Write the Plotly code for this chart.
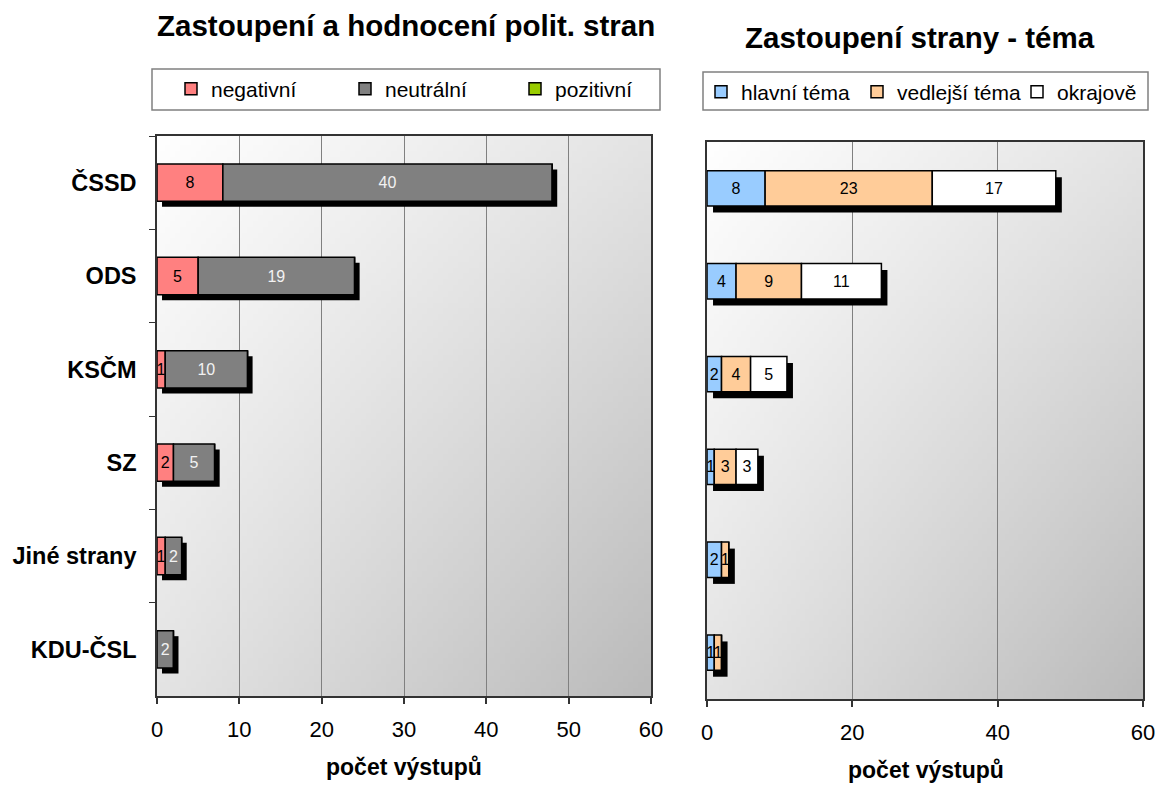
import base64
import struct
import zlib

import numpy as np
import plotly.graph_objects as go

# ---------------- data ----------------
parties = ["ČSSD", "ODS", "KSČM", "SZ", "Jiné strany", "KDU-ČSL"]

negativni = [8, 5, 1, 2, 1, 0]
neutralni = [40, 19, 10, 5, 2, 2]
pozitivni = [0, 0, 0, 0, 0, 0]

hlavni_tema = [8, 4, 2, 1, 2, 1]
vedlejsi_tema = [23, 9, 4, 3, 1, 1]
okrajove = [17, 11, 5, 3, 0, 0]

left_series_names = ["negativní", "neutrální", "pozitivní"]
right_series_names = ["hlavní téma", "vedlejší téma", "okrajově"]

left_ticks = [0, 10, 20, 30, 40, 50, 60]
right_ticks = [0, 20, 40, 60]

title_left = "Zastoupení a hodnocení polit. stran"
title_right = "Zastoupení strany - téma"
axis_title = "počet výstupů"

# ---------------- layout geometry ----------------
W, H = 1157, 785
FONT = "Liberation Sans, Arial, sans-serif"

L_px = (157, 651, 136, 696)   # x0, x1, ytop, ybottom
R_px = (707, 1143, 142, 699)

# legend boxes (x0, x1, ytop, ybottom) and symbol centres
L_box = (152, 660, 69, 110)
R_box = (703, 1148, 72, 110)
L_sym = [191, 365, 535]
R_sym = [721, 877, 1037]
L_sym_y = 89
R_sym_y = 92


def dom(px):
    x0, x1, yt, yb = px
    return [x0 / W, x1 / W], [1 - yb / H, 1 - yt / H]


LXd, LYd = dom(L_px)
RXd, RYd = dom(R_px)


def gradient_png():
    n = 96
    u = np.linspace(0, 1, n)[None, :]
    v = np.linspace(0, 1, n)[:, None]
    c = 255 - 27 * u - 27 * v - 14 * u * v
    arr = np.clip(c, 0, 255).astype(np.uint8)
    raw = b"".join(b"\x00" + row.tobytes() for row in arr)

    def chunk(t, d):
        return struct.pack(">I", len(d)) + t + d + struct.pack(">I", zlib.crc32(t + d) & 0xFFFFFFFF)

    ihdr = struct.pack(">IIBBBBB", n, n, 8, 0, 0, 0, 0)
    png = b"\x89PNG\r\n\x1a\n" + chunk(b"IHDR", ihdr) + chunk(b"IDAT", zlib.compress(raw)) + chunk(b"IEND", b"")
    return "data:image/png;base64," + base64.b64encode(png).decode()


fig = go.Figure()


def add_chart(series, names, colors, textcolors, xa, ya, legends, bw, sx, sy):
    vals = [np.array(s, dtype=float) for s in series]
    totals = np.sum(vals, axis=0)
    # drop shadow
    fig.add_trace(go.Bar(
        y=parties, x=totals, base=sx, orientation="h", width=bw, offset=-bw / 2 + sy,
        marker=dict(color="black", line=dict(width=0)), showlegend=False, hoverinfo="skip",
        xaxis=xa, yaxis=ya,
    ))
    cum = np.zeros(len(parties))
    for s, name, col, tc, lg in zip(vals, names, colors, textcolors, legends):
        fig.add_trace(go.Bar(
            y=parties, x=s, base=cum.copy(), orientation="h", width=bw, name=name,
            marker=dict(color=col, line=dict(color="black", width=1.5)),
            text=[str(int(v)) if v > 0 else "" for v in s],
            textposition="inside", insidetextanchor="middle", constraintext="none", textangle=0,
            textfont=dict(family=FONT, size=16, color=tc),
            xaxis=xa, yaxis=ya, legend=lg, showlegend=True,
        ))
        cum = cum + s


add_chart([negativni, neutralni, pozitivni], left_series_names,
          ["#FF8080", "#808080", "#99CC00"], ["black", "#f2f2f2", "black"],
          "x", "y", ["legend", "legend2", "legend3"], 0.40, 0.61, 0.059)
add_chart([hlavni_tema, vedlejsi_tema, okrajove], right_series_names,
          ["#99CCFF", "#FFCC99", "#FFFFFF"], ["black", "black", "black"],
          "x2", "y2", ["legend4", "legend5", "legend6"], 0.38, 0.83, 0.07)

xcommon = dict(range=[0, 60], showgrid=True, gridcolor="#808080", gridwidth=1, zeroline=False,
               ticks="outside", ticklen=6, tickcolor="#333", tickwidth=1.5,
               showline=True, linecolor="#333", linewidth=1.5, mirror=True, automargin=False,
               tickfont=dict(family=FONT, size=22, color="black"), ticklabelstandoff=7)


def legend_at(xc, yc):
    return dict(orientation="h", x=(xc - 20) / W, y=1 - yc / H, xanchor="left", yanchor="middle",
                bgcolor="rgba(0,0,0,0)", borderwidth=0,
                font=dict(family=FONT, size=21, color="black"), itemclick=False,
                itemdoubleclick=False)


legends = {}
names = ["legend", "legend2", "legend3", "legend4", "legend5", "legend6"]
centres = [(x, L_sym_y) for x in L_sym] + [(x, R_sym_y) for x in R_sym]
for nm, (xc, yc) in zip(names, centres):
    legends[nm] = legend_at(xc, yc)


def box(b):
    x0, x1, yt, yb = b
    return dict(type="rect", xref="paper", yref="paper", x0=x0 / W, x1=x1 / W,
                y0=1 - yb / H, y1=1 - yt / H, line=dict(color="#808080", width=1.5),
                fillcolor="white", layer="below")


fig.update_layout(
    width=W, height=H, margin=dict(l=0, r=0, t=0, b=0, autoexpand=False),
    paper_bgcolor="white", plot_bgcolor="rgba(0,0,0,0)", barmode="overlay",
    showlegend=True,
    xaxis=dict(domain=LXd, anchor="y", tickvals=left_ticks, **xcommon),
    xaxis2=dict(domain=RXd, anchor="y2", tickvals=right_ticks, **xcommon),
    yaxis=dict(domain=LYd, anchor="x", type="category", categoryarray=parties, categoryorder="array",
               range=[5.5, -0.5], showgrid=False, ticks="outside", tickson="boundaries", ticklen=6,
               tickcolor="#333", showline=True, linecolor="#333", linewidth=1.5, mirror=True,
               automargin=False,
               tickfont=dict(family=FONT, size=23.5, color="black", weight="bold"), ticklabelstandoff=14),
    yaxis2=dict(domain=RYd, anchor="x2", type="category", categoryarray=parties, categoryorder="array",
                range=[5.5, -0.5], showgrid=False, ticks="", showticklabels=False, automargin=False,
                showline=True, linecolor="#333", linewidth=1.5, mirror=True),
    shapes=[box(L_box), box(R_box)],
    images=[
        dict(source=gradient_png(), xref="paper", yref="paper", x=LXd[0], y=LYd[1],
             sizex=LXd[1] - LXd[0], sizey=LYd[1] - LYd[0], xanchor="left", yanchor="top",
             sizing="stretch", layer="below"),
        dict(source=gradient_png(), xref="paper", yref="paper", x=RXd[0], y=RYd[1],
             sizex=RXd[1] - RXd[0], sizey=RYd[1] - RYd[0], xanchor="left", yanchor="top",
             sizing="stretch", layer="below"),
    ],
    annotations=[
        dict(text=f"<b>{title_left}</b>", x=406 / W, y=1 - 26 / H, xref="paper", yref="paper",
             showarrow=False, xanchor="center", yanchor="middle", font=dict(family=FONT, size=29.5, color="black")),
        dict(text=f"<b>{title_right}</b>", x=920 / W, y=1 - 38 / H, xref="paper", yref="paper",
             showarrow=False, xanchor="center", yanchor="middle", font=dict(family=FONT, size=29.5, color="black")),
        dict(text=f"<b>{axis_title}</b>", x=404 / W, y=1 - 767 / H, xref="paper", yref="paper",
             showarrow=False, xanchor="center", yanchor="middle", font=dict(family=FONT, size=23, color="black")),
        dict(text=f"<b>{axis_title}</b>", x=926 / W, y=1 - 770 / H, xref="paper", yref="paper",
             showarrow=False, xanchor="center", yanchor="middle", font=dict(family=FONT, size=23, color="black")),
    ],
    **legends,
)

fig.write_html(
    "out.html",
    config={"displayModeBar": False},
    post_script="document.body.style.margin='0';document.body.style.overflow='hidden';",
)
